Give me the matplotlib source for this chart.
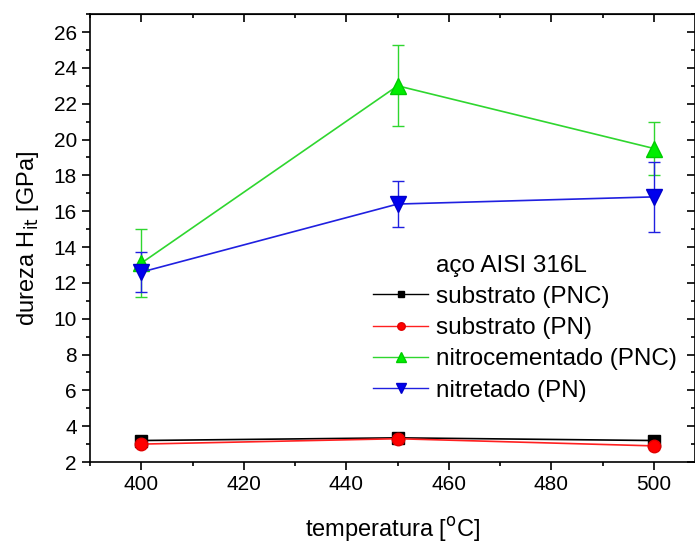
import numpy as np
import matplotlib.pyplot as plt
from matplotlib.ticker import MultipleLocator
from matplotlib.lines import Line2D

plt.rcParams['font.family'] = ['Liberation Sans', 'DejaVu Sans']

# dados
temperatura = [400, 450, 500]
substrato_pnc = [3.2, 3.35, 3.2]
substrato_pn = [3.0, 3.3, 2.9]
nitrocementado = [13.1, 23.0, 19.5]
nitrocementado_err = [1.9, 2.25, 1.5]
nitretado = [12.6, 16.4, 16.8]
nitretado_err = [1.1, 1.3, 1.95]

fig = plt.figure(figsize=(6.95, 5.44), dpi=100)
ax = fig.add_axes([0.1295, 0.1507, 0.8705, 0.8233])

estilos = [
    dict(marker='s', color='black', mfc='black', mec='black', ms=8),
    dict(marker='o', color='#ff2020', mfc='#ff0000', mec='#e00000', ms=9),
    dict(marker='^', color='#2fd62f', mfc='#00ee00', mec='#00cc00', ms=12),
    dict(marker='v', color='#2020e0', mfc='#0000ee', mec='#0000cc', ms=12),
]
rotulos = ['substrato (PNC)', 'substrato (PN)', 'nitrocementado (PNC)', 'nitretado (PN)']

ax.plot(temperatura, substrato_pnc, '-', lw=1.2, zorder=4, **estilos[0])
ax.plot(temperatura, substrato_pn, '-', lw=1.2, zorder=5, **estilos[1])
ax.errorbar(temperatura, nitrocementado, yerr=nitrocementado_err, ls='-', lw=1.2,
            elinewidth=1, capsize=4, zorder=3, **estilos[2])
ax.errorbar(temperatura, nitretado, yerr=nitretado_err, ls='-', lw=1.2,
            elinewidth=1, capsize=4, zorder=3, **estilos[3])

ax.set_xlim(390, 508)
ax.set_ylim(2, 27)
ax.xaxis.set_major_locator(MultipleLocator(20))
ax.xaxis.set_minor_locator(MultipleLocator(10))
ax.yaxis.set_major_locator(MultipleLocator(2))
ax.yaxis.set_minor_locator(MultipleLocator(1))
ax.tick_params(which='major', direction='out', length=6, width=1.2, labelsize=15)
ax.tick_params(which='minor', direction='out', length=3, width=1.2)
for s in ax.spines.values():
    s.set_linewidth(1.2)

# eixos espelhados (topo e direita)
top = ax.secondary_xaxis('top')
top.xaxis.set_major_locator(MultipleLocator(20))
top.xaxis.set_minor_locator(MultipleLocator(10))
top.tick_params(which='major', direction='in', length=6, width=1.2, labeltop=False)
top.tick_params(which='minor', direction='in', length=3, width=1.2)
right = ax.secondary_yaxis('right')
right.yaxis.set_major_locator(MultipleLocator(2))
right.yaxis.set_minor_locator(MultipleLocator(1))
right.tick_params(which='major', direction='in', length=6, width=1.2, labelright=False)
right.tick_params(which='minor', direction='in', length=3, width=1.2)

ax.set_xlabel('temperatura [$^{\\mathrm{o}}$C]', fontsize=17, labelpad=15)
ax.set_ylabel('dureza H$_{\\mathrm{it}}$ [GPa]', fontsize=17, labelpad=9)

# legenda: primeira linha é o título (sem marcador)
handles = [Line2D([], [], ls='none')]
for est in estilos:
    e = dict(est)
    e['ms'] = est['ms'] * 0.6
    handles.append(Line2D([], [], ls='-', lw=1.0, **e))
leg = ax.legend(handles, ['aço AISI 316L'] + rotulos, loc='upper left',
                bbox_to_anchor=(0.447, 0.49), frameon=False, fontsize=17.5,
                handlelength=2.3, handletextpad=0.3, labelspacing=0.38, borderpad=0.0)

fig.savefig('out.png', dpi=100)
